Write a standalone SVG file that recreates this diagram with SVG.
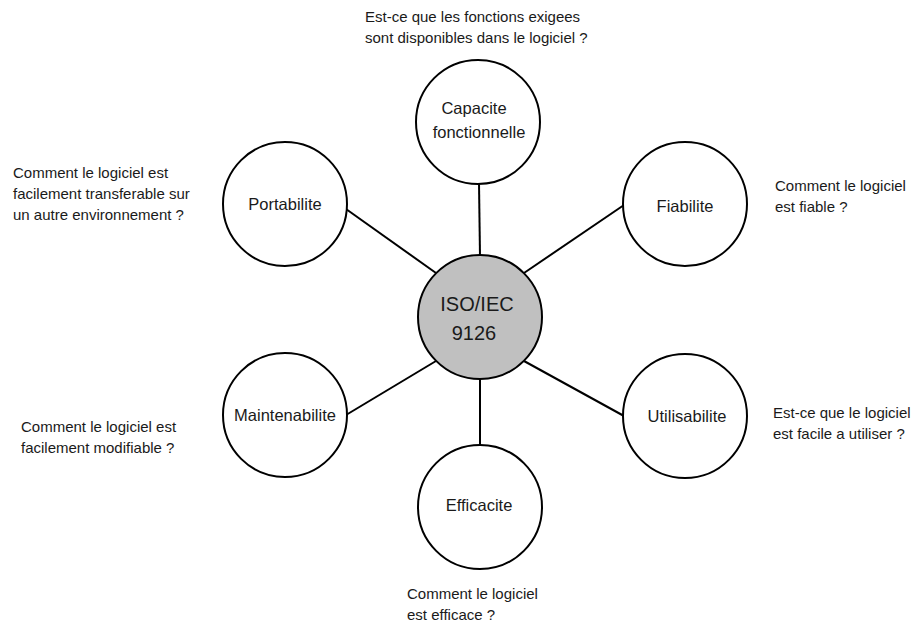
<svg xmlns="http://www.w3.org/2000/svg" width="914" height="624" viewBox="0 0 914 624">
<style>
  .bg{fill:#ffffff}
  .edge{stroke:#000;stroke-width:2;fill:none}
  .node{fill:#ffffff;stroke:#000;stroke-width:2}
  .hub{fill:#c0c0c0;stroke:#000;stroke-width:2}
  .lbl{font-family:"Liberation Sans",Arial,Helvetica,sans-serif;font-size:16.5px;fill:#1a1a1a;text-anchor:middle}
  .hubl{font-family:"Liberation Sans",Arial,Helvetica,sans-serif;font-size:20px;fill:#1a1a1a;text-anchor:middle}
  .note{font-family:"Liberation Sans",Arial,Helvetica,sans-serif;font-size:15px;fill:#1a1a1a}
</style>
<rect class="bg" x="0" y="0" width="914" height="624"/>
<g id="connectors">
  <line class="edge" x1="480" y1="256" x2="479" y2="183"/>
  <line class="edge" x1="524" y1="273" x2="624" y2="205"/>
  <line class="edge" x1="436" y1="273" x2="346" y2="209"/>
  <line class="edge" x1="436" y1="361" x2="346" y2="415"/>
  <line class="edge" x1="524" y1="361" x2="624" y2="416"/>
  <line class="edge" x1="480" y1="378" x2="480" y2="446"/>
</g>
<g id="hub">
  <circle class="hub" cx="480" cy="317" r="62"/>
  <text class="hubl" x="477" y="311">ISO/IEC</text>
  <text class="hubl" x="474" y="340">9126</text>
</g>
<g id="capacite">
  <circle class="node" cx="478" cy="122" r="62"/>
  <text class="lbl" x="474" y="114">Capacite</text>
  <text class="lbl" x="479" y="138">fonctionnelle</text>
</g>
<g id="fiabilite">
  <circle class="node" cx="685" cy="204" r="62"/>
  <text class="lbl" x="685" y="212">Fiabilite</text>
</g>
<g id="portabilite">
  <circle class="node" cx="285" cy="204" r="62"/>
  <text class="lbl" x="285" y="210">Portabilite</text>
</g>
<g id="maintenabilite">
  <circle class="node" cx="285" cy="415" r="62"/>
  <text class="lbl" x="285" y="421">Maintenabilite</text>
</g>
<g id="utilisabilite">
  <circle class="node" cx="685" cy="416" r="62"/>
  <text class="lbl" x="687" y="422">Utilisabilite</text>
</g>
<g id="efficacite">
  <circle class="node" cx="480" cy="507" r="62"/>
  <text class="lbl" x="479" y="511">Efficacite</text>
</g>
<g id="notes">
  <text class="note" x="365" y="22">Est-ce que les fonctions exigees</text>
  <text class="note" x="365" y="43">sont disponibles dans le logiciel ?</text>
  <text class="note" x="775" y="191">Comment le logiciel</text>
  <text class="note" x="775" y="212">est fiable ?</text>
  <text class="note" x="13" y="178">Comment le logiciel est</text>
  <text class="note" x="13" y="199">facilement transferable sur</text>
  <text class="note" x="13" y="220">un autre environnement ?</text>
  <text class="note" x="21" y="432">Comment le logiciel est</text>
  <text class="note" x="21" y="453">facilement modifiable ?</text>
  <text class="note" x="773" y="418">Est-ce que le logiciel</text>
  <text class="note" x="773" y="439">est facile a utiliser ?</text>
  <text class="note" x="407" y="599">Comment le logiciel</text>
  <text class="note" x="407" y="620">est efficace ?</text>
</g>
</svg>
